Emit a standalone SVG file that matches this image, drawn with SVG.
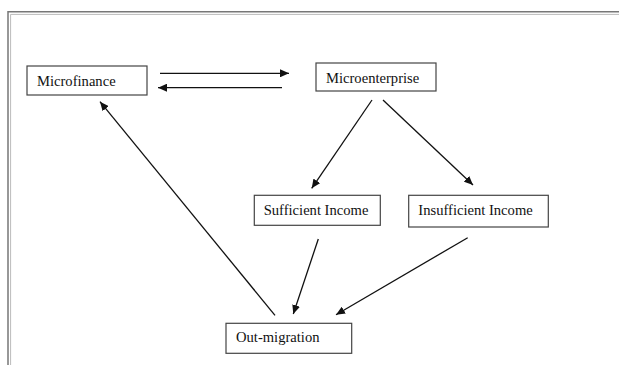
<svg xmlns="http://www.w3.org/2000/svg" width="619" height="365" viewBox="0 0 619 365">
<style>
.box{fill:#fff;stroke:#444;stroke-width:1.2}
.lbl{font-family:"Liberation Serif","Times New Roman",serif;font-size:14.6px;fill:#111}
.con{stroke:#111;stroke-width:1.3;fill:none}
</style>
<defs>
<marker id="ah" markerUnits="userSpaceOnUse" markerWidth="10" markerHeight="8" refX="9" refY="4" orient="auto">
<path d="M0,0 L9,4 L0,8 Z" fill="#111"/>
</marker>
</defs>
<rect width="619" height="365" fill="#fff"/>
<g id="frame">
<path d="M8,365 V11.8 H619" fill="none" stroke="#777" stroke-width="1.5"/>
<path d="M10.6,365 V14.4 H619" fill="none" stroke="#bbb" stroke-width="1"/>
</g>
<g id="connectors">
<line class="con" x1="160" y1="73.3" x2="289" y2="73.3" marker-end="url(#ah)"/>
<line class="con" x1="282" y1="87.7" x2="158" y2="87.7" marker-end="url(#ah)"/>
<line class="con" x1="372" y1="100" x2="311.7" y2="188.3" marker-end="url(#ah)"/>
<line class="con" x1="383" y1="100" x2="473" y2="185" marker-end="url(#ah)"/>
<line class="con" x1="318.3" y1="239" x2="293.3" y2="314" marker-end="url(#ah)"/>
<line class="con" x1="467.7" y1="237.7" x2="336" y2="314.7" marker-end="url(#ah)"/>
<line class="con" x1="275" y1="315.3" x2="100" y2="101.7" marker-end="url(#ah)"/>
</g>
<g id="microfinance">
<rect class="box" x="27" y="66" width="120" height="29"/>
<text class="lbl" x="37" y="86">Microfinance</text>
</g>
<g id="microenterprise">
<rect class="box" x="316" y="63" width="120" height="28"/>
<text class="lbl" x="326" y="82.5">Microenterprise</text>
</g>
<g id="sufficient-income">
<rect class="box" x="254.3" y="195.3" width="126" height="30"/>
<text class="lbl" x="263.7" y="214.7">Sufficient Income</text>
</g>
<g id="insufficient-income">
<rect class="box" x="408.7" y="195.3" width="139.6" height="31.7"/>
<text class="lbl" x="418.3" y="214.7">Insufficient Income</text>
</g>
<g id="out-migration">
<rect class="box" x="226" y="323.3" width="125.7" height="30"/>
<text class="lbl" x="236" y="342.3">Out-migration</text>
</g>
</svg>
